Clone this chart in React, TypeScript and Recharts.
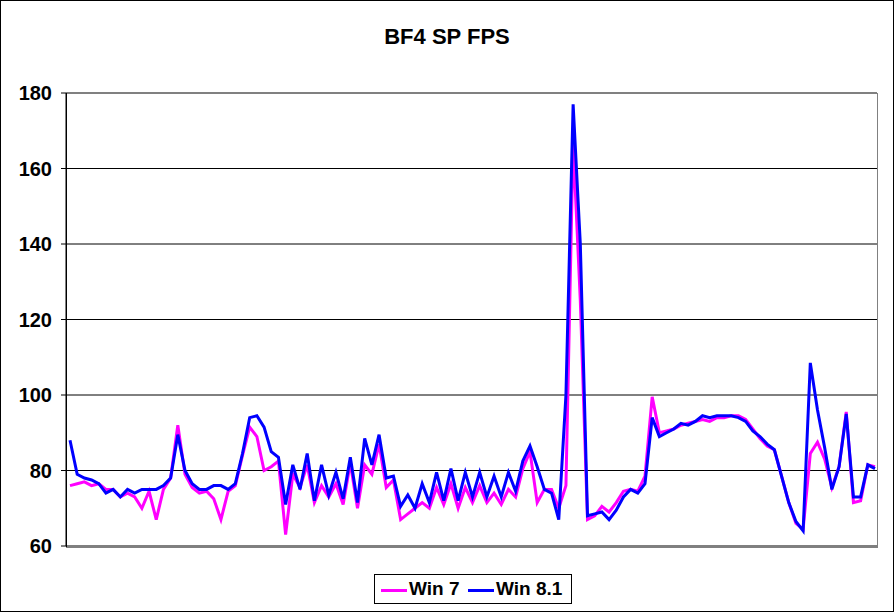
import React from 'react';
import { LineChart, Line, XAxis, YAxis, CartesianGrid } from 'recharts';

// Win 7 / Win 8.1 frame rates
const win7 = [
  76, 76.5, 77, 76, 76.5, 75, 75, 73, 74, 73, 70, 74.5, 67, 75, 78, 92, 79, 75.5, 74, 74.5,
  72.5, 67, 74.5, 76, 84, 91.5, 89, 80, 81, 82.5, 63, 79, 75.5, 81.5, 71.5, 76, 73, 76.5, 71, 82,
  70, 81.5, 79, 87, 75.5, 77.5, 67, 68.5, 70, 71.5, 70, 75.5, 71, 76.5, 70, 75.5, 71.5, 76, 71.5, 74,
  71, 75, 73, 80.5, 85, 71.5, 75, 75, 70, 76, 167, 125, 67, 68, 70.5, 69, 71.5, 74.5, 75, 74.5,
  78.5, 99.5, 90, 90.5, 91, 92, 92.5, 93, 93.5, 93, 94, 94, 94.5, 94.5, 93.5, 91, 88.5, 86.5, 85.5, 78.5,
  71.5, 66, 64.5, 84.5, 87.5, 83, 75.5, 81, 95.5, 71.5, 72, 81.5, 81,
];

const win81 = [
  88, 79, 78, 77.5, 76.5, 74, 75, 73, 75, 74, 75, 75, 75, 76, 78, 89.5, 80, 76.5, 75, 75,
  76, 76, 75, 76.5, 84.5, 94, 94.5, 91.5, 85, 83.5, 71, 81.5, 75, 84.5, 72, 81.5, 73.5, 79.5, 72.5, 83.5,
  71.5, 88.5, 81.5, 89.5, 78, 78.5, 70.5, 73.5, 70, 76.5, 71.5, 79.5, 72, 80.5, 72, 79.5, 73, 79.5, 73, 78.5,
  73, 79.5, 74.5, 82.5, 86.5, 81, 75, 74, 67, 100, 177, 140, 68, 68.5, 69, 67, 69.5, 73, 75, 74,
  76.5, 94, 89, 90, 91, 92.5, 92, 93, 94.5, 94, 94.5, 94.5, 94.5, 94, 93, 90.5, 89, 87, 85.5, 78.5,
  71.5, 66.5, 64, 108.5, 96, 86, 75, 81, 95, 73, 73, 81.5, 80.5,
];

const seriesNames = ['Win 7', 'Win 8.1'];
const seriesColors = ['#FF00FF', '#0000FF'];
const yTicks = [60, 80, 100, 120, 140, 160, 180];

const data = win7.map((v, i) => ({ frame: i + 1, win7: v, win81: win81[i] }));

const FONT = '"Liberation Sans", Arial, sans-serif';

// plot area in page pixels
const PLOT = { left: 66, top: 93, right: 877, bottom: 546 };

export default function App() {
  return (
    <div
      style={{
        position: 'absolute',
        left: 0,
        top: 0,
        width: 894,
        height: 612,
        boxSizing: 'border-box',
        border: '1px solid #000',
        background: '#fff',
        fontFamily: FONT,
      }}
    >
      <div
        style={{
          position: 'absolute',
          left: -1,
          top: 25,
          width: 894,
          textAlign: 'center',
          fontSize: 22,
          lineHeight: '22px',
          fontWeight: 'bold',
          color: '#000',
        }}
      >
        BF4 SP FPS
      </div>

      <div style={{ position: 'absolute', left: -1, top: -1 }}>
        <LineChart
          width={894}
          height={612}
          data={data}
          margin={{ top: PLOT.top, right: 894 - PLOT.right, bottom: 612 - PLOT.bottom, left: 6 }}
        >
          <CartesianGrid horizontal vertical={false} stroke="#000" strokeWidth={1} />
          <XAxis dataKey="frame" hide padding={{ left: 4, right: 2 }} />
          <YAxis
            width={60}
            domain={[60, 180]}
            ticks={yTicks}
            interval={0}
            axisLine={{ stroke: '#000', strokeWidth: 1 }}
            tickLine={{ stroke: '#000', strokeWidth: 1 }}
            tickSize={5}
            tickMargin={9}
            tick={{ fill: '#000', fontSize: 20, fontWeight: 'bold', fontFamily: FONT }}
          />
          <Line
            type="linear"
            dataKey="win7"
            name={seriesNames[0]}
            stroke={seriesColors[0]}
            strokeWidth={3}
            dot={false}
            isAnimationActive={false}
          />
          <Line
            type="linear"
            dataKey="win81"
            name={seriesNames[1]}
            stroke={seriesColors[1]}
            strokeWidth={3}
            dot={false}
            isAnimationActive={false}
          />
        </LineChart>
      </div>

      {/* gray plot-area border on top, right and bottom */}
      <div
        style={{
          position: 'absolute',
          left: PLOT.left - 1,
          top: PLOT.top - 1,
          width: PLOT.right - PLOT.left,
          height: PLOT.bottom - PLOT.top,
          borderTop: '1px solid #808080',
          borderRight: '1px solid #808080',
          borderBottom: '1px solid #808080',
          pointerEvents: 'none',
        }}
      />
      {/* left axis sits on top of the border */}
      <div
        style={{
          position: 'absolute',
          left: PLOT.left - 1,
          top: PLOT.top - 1,
          width: 1,
          height: PLOT.bottom - PLOT.top + 1,
          background: '#000',
        }}
      />

      {/* legend */}
      <div
        style={{
          position: 'absolute',
          left: 373,
          top: 573,
          width: 198,
          height: 30,
          boxSizing: 'border-box',
          border: '1px solid #000',
          background: '#fff',
        }}
      >
        {[
          { lineLeft: 6, textLeft: 34 },
          { lineLeft: 93, textLeft: 121 },
        ].map((pos, i) => (
          <React.Fragment key={seriesNames[i]}>
            <div
              style={{
                position: 'absolute',
                left: pos.lineLeft,
                top: 14,
                width: 26,
                height: 3,
                background: seriesColors[i],
              }}
            />
            <div
              style={{
                position: 'absolute',
                left: pos.textLeft,
                top: 4,
                fontSize: 19,
                lineHeight: '19px',
                fontWeight: 'bold',
                color: '#000',
                whiteSpace: 'nowrap',
              }}
            >
              {seriesNames[i]}
            </div>
          </React.Fragment>
        ))}
      </div>
    </div>
  );
}
